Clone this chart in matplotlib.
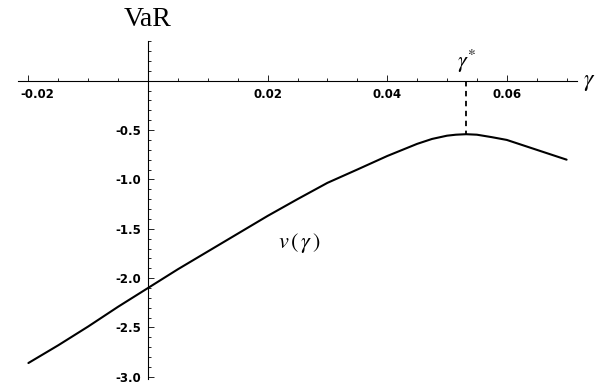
import matplotlib
matplotlib.use("Agg")
import matplotlib.pyplot as plt
import matplotlib.transforms as mtransforms
import numpy as np
from matplotlib.ticker import FixedLocator

# Valeurs
gamma = [-0.020, -0.015, -0.010, -0.005, 0.000, 0.005, 0.010, 0.015, 0.020,
         0.025, 0.030, 0.035, 0.040, 0.045, 0.0475, 0.050, 0.0515, 0.0532,
         0.055, 0.0575, 0.060, 0.0625, 0.065, 0.0675, 0.070]
var = [-2.86, -2.68, -2.49, -2.29, -2.10, -1.91, -1.73, -1.55, -1.37,
       -1.20, -1.035, -0.90, -0.763, -0.64, -0.59, -0.557, -0.547, -0.542,
       -0.547, -0.572, -0.60, -0.65, -0.70, -0.75, -0.80]
gamma_star = 0.0532
var_star = -0.542

x_ticks = [-0.02, 0.02, 0.04, 0.06]
x_labels = ["-0.02", "0.02", "0.04", "0.06"]
y_ticks = [-0.5, -1.0, -1.5, -2.0, -2.5, -3.0]
y_labels = ["-0.5", "-1.0", "-1.5", "-2.0", "-2.5", "-3.0"]

plt.rcParams["mathtext.fontset"] = "stix"

fig = plt.figure(figsize=(5.95, 3.87), dpi=100)
ax = fig.add_axes([0, 0, 1, 1])
ax.set_xlim(-0.02475, 0.07475)
ax.set_ylim(-3.103, 0.8176)

# axes a la Mathematica
for s in ["top", "right"]:
    ax.spines[s].set_visible(False)
ax.spines["left"].set_position(("data", 0))
ax.spines["bottom"].set_position(("data", 0))
ax.spines["left"].set_bounds(-3.02, 0.40)
ax.spines["bottom"].set_bounds(-0.0218, 0.0718)
for s in ["left", "bottom"]:
    ax.spines[s].set_linewidth(0.8)

ax.xaxis.set_major_locator(FixedLocator(x_ticks))
ax.xaxis.set_minor_locator(FixedLocator(np.arange(-0.02, 0.0701, 0.005)))
ax.yaxis.set_major_locator(FixedLocator(y_ticks))
ax.yaxis.set_minor_locator(FixedLocator(np.arange(-3.0, 0.401, 0.1)))
ax.set_xticklabels(x_labels)
ax.set_yticklabels(y_labels)
ax.tick_params(which="both", direction="in", width=0.6, pad=5,
               labelsize=8.5, colors="black")
ax.tick_params(which="major", length=4)
ax.tick_params(which="minor", length=2.2)
for lab in ax.get_xticklabels() + ax.get_yticklabels():
    lab.set_fontweight("bold")
# decalage de l'etiquette -0.02 comme sur l'original
off = mtransforms.ScaledTranslation(9 / 100, 0, fig.dpi_scale_trans)
ax.get_xticklabels()[0].set_transform(ax.get_xticklabels()[0].get_transform() + off)

# courbe
ax.plot(gamma, var, color="black", linewidth=1.5, solid_joinstyle="round",
        solid_capstyle="round")
ax.plot([gamma_star, gamma_star], [0, var_star], color="black",
        linewidth=1.3, linestyle=(0, (3, 2.5)))

# textes
ax.text(0, 0.625, "VaR", family="Liberation Serif", fontsize=20,
        ha="center", va="center")
ax.text(gamma_star, 0.06, r"$\gamma^{*}$", fontsize=16, ha="center",
        va="bottom")
ax.text(0.0728, 0.0, r"$\gamma$", fontsize=17, ha="left", va="center")
ax.text(0.0253, -1.64, r"$v\,(\,\gamma\,)$", fontsize=16, ha="center",
        va="center")

plt.savefig("out.png", dpi=100)
